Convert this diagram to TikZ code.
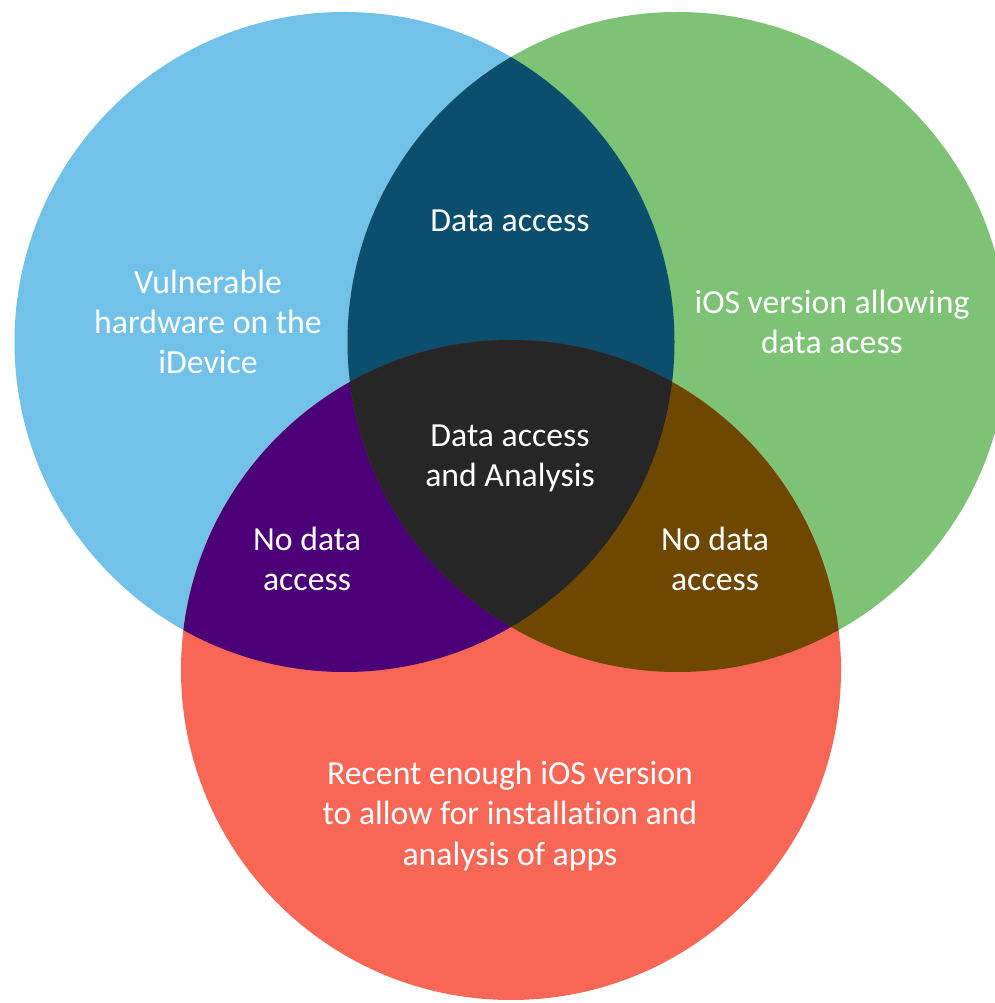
\documentclass[tikz,border=0pt]{standalone}
\usepackage{fontspec}
\setmainfont{Carlito}[Ligatures=NoCommon]
\usetikzlibrary{positioning}

\definecolor{hwblue}{HTML}{71C1E9}
\definecolor{iosgreen}{HTML}{7DC275}
\definecolor{appred}{HTML}{F86656}
\definecolor{bgdark}{HTML}{0C4E6E}
\definecolor{brpurple}{HTML}{4B0078}
\definecolor{grbrown}{HTML}{6E4800}
\definecolor{allblack}{HTML}{262626}

\tikzset{
  settext/.style={text=white,align=center,font=\fontsize{19.2}{22.8}\selectfont},
}

\begin{document}
\begin{tikzpicture}
\useasboundingbox (0,0) rectangle (19.9,20.06);
\coordinate (hw)  at ( 6.89,13.22);
\coordinate (ios) at (13.55,13.22);
\coordinate (app) at (10.22, 6.66);

% the three sets
\fill [hwblue]   (hw)  circle (6.6);
\fill [iosgreen] (ios) circle (6.6);
\fill [appred]   (app) circle (6.6);

% pairwise overlaps
\begin{scope}
  \clip (hw) circle (6.6);
  \fill [bgdark] (ios) circle (6.6);
\end{scope}
\begin{scope}
  \clip (hw) circle (6.6);
  \fill [brpurple] (app) circle (6.6);
\end{scope}
\begin{scope}
  \clip (ios) circle (6.6);
  \fill [grbrown] (app) circle (6.6);
\end{scope}
% all three
\begin{scope}
  \clip (hw) circle (6.6);
  \clip (ios) circle (6.6);
  \fill [allblack] (app) circle (6.6);
\end{scope}

\node [settext] (hwtext)   at ( 4.16,13.62) {Vulnerable\\ hardware on the\\ iDevice};
\node [settext] (iostext)  at (16.64,13.62) {iOS version allowing\\ data acess};
\node [settext] (apptext)  at (10.20, 3.74) {Recent enough iOS version\\ to allow for installation and\\ analysis of apps};
\node [settext] (hwios)    at (10.20,15.64) {Data access};
\node [settext] (hwapp)    at ( 6.14, 8.88) {No data\\ access};
\node [settext] (iosapp)   at (14.30, 8.88) {No data\\ access};
\node [settext] (center)   at (10.20,10.90) {Data access\\ and Analysis};
\end{tikzpicture}
\end{document}
